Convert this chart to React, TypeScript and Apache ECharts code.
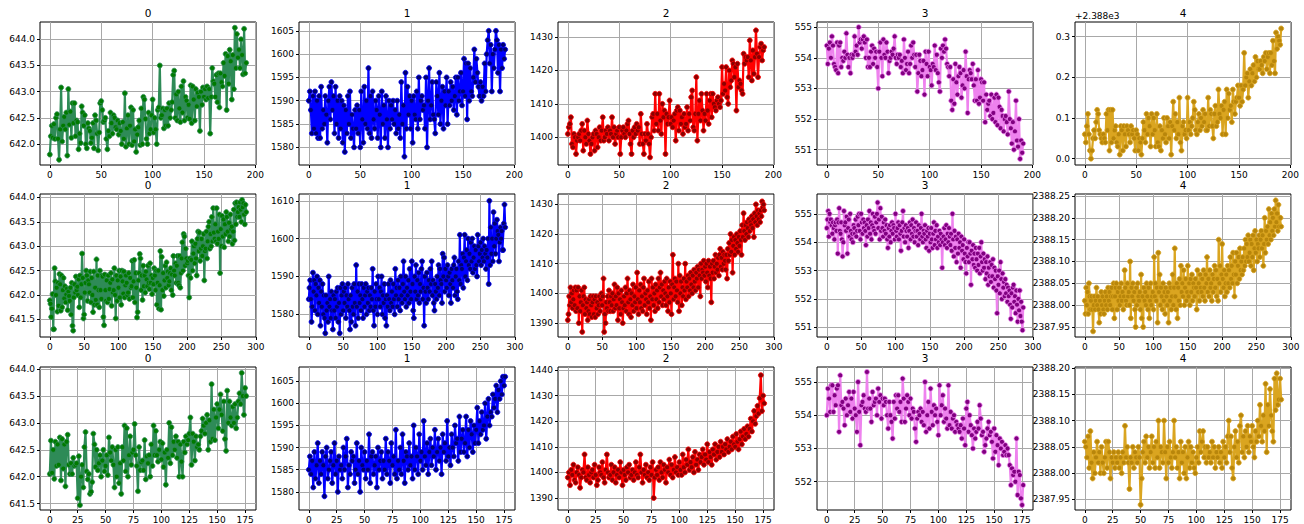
import React, { useEffect, useRef } from "react";
import * as echarts from "echarts";

// ---- DATA (integer readings; value = COL_BASE[c] + k * COL_STEP[c]) ----
const COL_BASE = [641, 1570, 1380, 550, 2387.9];
const COL_STEP = [0.01, 1, 1, 0.1, 0.01];
const COL_TITLES = ["0", "1", "2", "3", "4"];

// Row 1 (192 points)
const R1_C0 = [80,115,135,112,138,110,150,157,110,70,128,208,105,135,152,128,160,78,205,137,162,112,178,140,178,115,145,142,90,120,102,172,160,135,155,100,92,140,130,125,102,112,140,92,155,145,120,88,122,178,182,165,142,145,150,110,90,125,115,160,140,120,155,150,132,128,145,118,140,125,100,142,110,197,95,130,155,100,135,170,98,165,105,128,85,118,132,145,98,168,100,190,185,148,110,100,160,120,128,155,185,122,150,128,100,165,170,250,150,155,168,130,165,135,168,135,178,150,165,180,232,240,150,195,145,200,168,142,210,160,220,145,190,183,150,175,148,212,140,210,185,145,205,172,198,190,125,200,175,208,190,205,185,210,188,205,120,190,245,220,215,190,232,180,235,170,235,218,210,255,230,272,165,268,215,280,258,185,270,205,322,245,310,265,280,245,300,270,233,320,235,255];
const R1_C1 = [20,22,18,13,21,14,22,13,20,12,21,12,23,14,18,15,21,17,11,20,23,16,24,18,21,13,23,15,20,12,21,14,20,11,19,9,18,13,21,15,22,12,17,14,10,18,14,19,13,18,10,22,16,11,23,15,20,14,27,13,21,12,22,16,14,20,18,12,21,17,10,22,15,19,12,21,16,10,20,14,19,16,20,15,18,13,20,14,17,12,24,15,19,8,26,14,23,17,21,14,20,11,21,17,16,22,14,25,16,20,21,18,19,14,25,10,20,27,16,19,24,17,16,13,24,21,17,26,15,20,23,14,22,19,25,15,22,19,24,20,23,18,21,25,17,25,20,22,26,19,22,29,21,28,16,28,20,27,22,21,25,31,24,29,26,23,21,24,20,23,21,28,22,30,33,35,28,32,22,30,27,31,35,33,26,32,22,31,27,32,29,31];
const R1_C2 = [21,23,24,26,18,17,21,20,15,19,20,21,19,22,24,16,22,20,18,25,21,19,15,18,20,21,16,22,21,17,20,23,19,22,26,19,20,22,21,23,19,22,21,26,20,23,18,21,22,20,23,15,20,22,23,21,20,22,24,25,21,18,15,22,20,23,21,24,22,23,18,27,21,18,15,21,19,24,21,18,14,20,26,27,22,33,24,27,22,33,25,21,30,26,28,15,27,24,26,31,24,26,23,25,27,19,28,29,22,28,24,26,21,27,23,24,29,22,27,25,32,34,23,22,27,38,19,27,31,25,33,28,22,27,25,33,28,24,31,33,26,33,30,29,28,31,32,30,29,31,41,33,36,34,41,32,30,40,35,37,43,42,38,41,28,42,35,37,36,34,33,45,42,44,43,44,38,49,43,37,46,39,44,52,45,38,44,47,48,43,46,47];
const R1_C3 = [44,38,43,45,40,47,44,38,37,36,45,35,44,45,37,40,39,42,40,48,41,37,40,35,41,40,41,47,42,44,41,50,45,46,43,46,47,45,40,46,37,40,37,42,44,38,43,40,42,37,30,42,45,40,34,46,41,40,45,42,35,39,40,42,41,43,47,40,38,41,40,41,37,39,35,46,40,36,38,42,35,38,44,40,45,41,37,41,29,35,41,39,34,36,39,28,42,38,34,42,37,36,31,38,37,44,36,41,35,32,29,43,40,44,42,46,43,38,37,34,37,26,23,33,25,38,32,28,34,37,35,27,31,36,30,42,34,22,33,36,35,33,38,31,26,33,26,36,25,27,33,32,26,32,19,28,23,25,26,21,28,20,22,27,19,28,18,27,24,17,23,21,16,20,21,19,15,29,20,17,12,19,10,16,26,13,11,20,7,13,9,12];
const R1_C4 = [16,14,18,21,16,12,10,12,15,17,15,19,22,21,17,16,15,14,16,15,14,21,17,22,12,22,14,22,15,17,18,14,13,16,11,18,17,12,18,16,13,18,17,16,14,18,16,17,15,12,17,16,12,15,14,11,15,19,17,14,21,16,20,18,13,21,16,20,17,13,21,14,13,18,12,17,15,20,16,14,20,18,15,19,11,18,24,17,21,15,19,16,25,14,12,18,19,16,17,15,25,17,19,16,18,20,24,22,17,16,19,21,17,20,18,22,19,21,17,17,25,18,22,21,18,15,21,23,18,19,27,21,20,23,16,22,24,16,27,20,26,22,23,19,27,24,21,24,25,28,25,23,28,24,27,36,28,30,31,25,29,32,28,31,33,29,35,30,34,32,32,34,33,31,35,34,36,32,35,36,31,36,33,39,34,31,41,37,40,39,38,42];

// Row 2 (287 points)
const R2_C0 = [89,82,55,72,102,30,30,155,128,100,115,66,125,78,143,122,68,140,75,110,135,93,118,85,101,113,69,107,98,88,115,60,125,37,27,95,122,105,138,110,117,100,132,75,140,95,122,185,135,52,60,105,125,150,140,88,130,122,105,148,85,135,100,65,148,80,115,90,173,80,140,110,75,150,110,92,140,138,55,38,142,110,88,130,85,140,92,112,125,145,78,132,105,110,155,100,52,140,88,130,115,150,95,138,80,150,128,103,148,95,120,140,125,100,105,145,92,135,115,118,170,95,128,172,85,145,115,54,65,130,145,184,175,110,140,90,160,118,140,105,148,132,118,160,125,112,165,125,140,102,135,122,155,140,110,150,80,125,150,72,120,190,70,178,110,145,98,130,160,115,167,135,148,120,128,145,155,110,142,100,180,150,140,165,125,160,180,125,120,180,115,145,175,208,150,225,220,160,195,175,165,170,140,95,175,135,172,210,150,185,200,165,205,175,140,215,230,190,228,170,195,215,180,200,225,130,190,195,230,175,210,240,250,195,225,200,260,210,278,228,215,245,210,278,205,230,215,265,145,235,200,262,220,255,198,245,225,270,260,230,210,248,220,265,235,240,205,230,275,212,288,245,290,260,270,280,260,290,275,250,295,280,288,265,245,285,270];
const R2_C1 = [14,17,19,14,8,12,21,16,19,11,18,15,20,10,17,13,19,7,16,12,18,10,15,9,5,15,11,13,8,20,12,14,9,16,11,6,15,11,14,9,16,12,17,8,13,5,17,10,15,18,11,16,13,17,9,15,12,18,14,11,6,15,8,17,12,10,18,13,7,23,12,16,9,18,13,15,11,18,14,9,17,12,15,18,10,16,13,17,11,15,12,17,14,22,11,7,16,12,18,14,10,20,14,17,12,16,20,10,15,13,18,9,14,7,15,12,18,14,11,19,13,16,12,18,14,10,22,15,17,12,19,14,17,11,20,15,13,18,24,16,14,20,12,17,15,19,13,22,16,14,24,18,11,9,20,16,23,14,19,15,21,13,18,16,22,24,14,17,7,20,16,13,21,17,14,19,16,22,18,24,15,19,13,11,18,16,14,20,17,23,15,22,19,18,13,26,20,25,16,22,19,17,23,20,15,21,18,13,22,19,17,23,25,15,20,22,16,14,24,19,31,18,23,22,26,17,25,31,20,24,27,19,30,23,26,22,29,24,30,21,25,28,22,27,23,20,31,28,24,26,29,23,27,25,30,24,28,26,22,27,25,30,18,40,23,33,26,30,24,37,28,34,26,30,35,32,31,24,29,33,30,32,27,27,34,39,33];
const R2_C2 = [11,13,19,16,22,17,20,15,18,21,16,22,14,21,15,22,10,19,14,17,21,7,16,19,22,13,18,15,17,11,14,18,13,19,16,12,17,19,13,18,12,19,15,17,13,16,19,14,18,20,16,19,25,7,13,10,17,15,19,14,21,17,14,19,16,20,14,18,23,15,19,16,22,11,20,15,18,13,21,17,10,15,19,16,22,14,20,25,17,13,21,18,12,20,16,23,14,19,17,22,15,27,18,13,21,17,23,15,19,14,22,25,16,20,18,13,21,17,24,15,19,11,25,18,22,16,20,14,23,18,21,15,25,17,22,27,19,23,16,21,18,24,20,16,25,19,14,22,17,24,20,13,23,33,18,22,25,19,24,21,17,30,14,26,20,24,16,22,19,25,21,30,18,24,22,26,19,25,21,27,23,20,26,22,28,24,21,27,25,29,22,28,26,19,30,25,28,27,31,26,29,24,30,27,22,31,26,29,25,17,30,27,31,25,29,33,27,30,28,32,26,33,35,29,32,28,34,30,33,31,28,33,25,35,31,37,33,40,34,38,27,36,39,33,38,35,40,37,34,39,36,41,38,33,43,39,47,41,38,43,40,44,42,39,45,41,44,43,46,42,45,39,47,44,50,46,43,48,45,47,44,48,46,51,49,50,48];
const R2_C3 = [45,48,51,42,50,47,48,46,43,47,45,41,46,47,44,48,36,47,52,44,43,47,41,35,40,51,46,47,44,49,36,45,48,42,50,44,41,43,40,46,45,43,48,42,44,49,46,50,44,41,50,47,43,48,45,47,44,39,46,42,48,45,51,43,47,41,46,50,45,44,49,43,47,50,54,45,48,41,52,44,49,45,42,47,44,48,43,46,41,38,45,42,46,40,44,47,43,46,45,41,50,44,42,45,47,41,46,43,37,44,47,51,42,45,40,46,44,42,45,38,44,47,41,46,43,48,42,45,40,44,47,42,44,39,46,43,41,45,50,42,40,44,43,46,41,38,44,42,45,37,43,40,45,41,38,43,47,39,44,41,46,38,42,40,44,39,43,41,31,40,42,45,39,41,46,38,43,40,45,42,39,43,37,50,41,35,44,38,42,33,41,36,43,38,40,31,42,37,39,34,41,36,33,29,38,35,40,33,40,36,25,37,34,39,32,36,31,38,34,30,36,32,38,29,35,40,33,30,36,31,34,27,33,29,35,25,31,28,33,26,32,28,34,24,31,27,30,23,15,28,25,30,22,33,27,20,29,24,26,21,27,22,25,19,24,21,23,18,13,22,17,24,25,19,21,15,23,18,12,20,16,23,14,19,12,9,17];
const R2_C4 = [11,8,14,10,13,8,15,12,9,11,12,9,4,10,12,9,11,14,10,12,9,6,11,8,13,10,12,9,8,11,13,10,12,9,14,11,13,10,12,14,9,12,15,7,12,14,15,9,13,11,14,10,12,15,11,13,9,12,18,14,11,10,15,12,13,10,20,7,14,12,15,11,13,9,5,14,10,15,12,11,13,9,17,7,12,5,14,11,13,10,15,12,9,14,7,11,15,10,12,13,9,21,12,15,11,14,6,22,13,17,10,14,12,9,15,11,13,8,14,12,10,13,6,15,11,14,9,12,17,10,14,23,12,9,15,7,14,11,16,10,19,13,15,12,18,10,14,16,11,13,19,12,15,10,16,13,17,11,15,14,12,16,14,9,18,13,15,11,17,14,13,16,12,18,14,11,17,15,21,13,16,12,18,14,15,11,17,13,16,19,14,18,12,16,11,25,15,19,13,17,24,16,14,18,12,15,17,13,19,15,18,14,21,16,19,15,22,17,12,20,17,22,15,19,21,16,23,18,20,17,21,18,23,19,25,20,24,21,26,20,22,25,19,24,21,26,18,23,27,22,25,20,24,23,26,21,25,27,23,26,19,24,30,22,27,25,28,24,32,26,29,25,31,27,30,26,32,28,34,29,31,27,33,28,30,30,28];

// Row 3 (177 points)
const R3_C0 = [105,167,107,150,96,165,120,160,122,173,93,170,115,160,82,165,178,122,105,125,105,135,120,122,125,60,138,47,100,122,80,155,183,110,95,105,68,72,90,180,160,118,150,112,125,140,100,130,150,110,120,140,103,173,145,130,155,122,80,150,100,155,88,125,68,155,130,195,110,190,100,140,175,122,145,150,198,140,120,73,155,112,127,130,112,168,95,138,125,140,100,160,120,195,140,185,140,128,150,165,132,162,118,145,85,150,135,200,125,192,140,165,150,175,135,165,100,160,128,100,165,145,175,160,168,180,210,122,180,165,130,175,155,160,150,175,185,208,195,180,200,215,150,205,165,272,170,225,168,210,235,190,225,253,215,185,240,170,148,260,200,240,210,195,230,200,235,190,210,240,255,235,293,250,215,265,250];
const R3_C1 = [15,18,14,17,11,19,13,16,21,12,17,14,19,16,9,18,20,13,15,17,19,12,16,21,14,17,10,18,15,16,13,20,15,18,22,11,16,14,19,17,18,12,15,21,14,17,10,20,16,15,19,13,17,15,23,12,18,19,14,16,18,11,20,15,17,19,13,17,15,22,14,19,17,12,21,16,18,14,24,13,17,15,20,14,23,17,12,19,18,15,21,16,18,13,25,15,20,18,14,23,17,19,15,26,18,16,21,14,19,22,16,20,18,24,15,19,22,17,20,14,23,19,21,17,26,18,20,16,23,20,18,25,21,22,17,27,19,22,24,19,21,27,18,24,20,26,23,19,25,21,24,29,21,26,23,28,24,25,30,22,27,31,25,28,27,32,29,31,34,28,33,31,35,32,36,34,36];
const R3_C2 = [18,20,15,21,19,23,17,16,20,22,19,14,18,21,20,27,18,17,22,19,16,20,21,18,23,19,15,17,22,20,19,24,18,16,21,27,20,18,19,23,17,20,22,16,19,21,18,24,20,15,21,19,17,22,20,23,18,19,21,17,20,24,19,18,22,27,20,16,21,19,23,18,20,17,22,19,24,10,18,21,19,22,17,24,20,18,23,21,16,22,20,25,19,23,18,21,26,20,22,19,24,21,19,27,22,20,25,23,29,21,24,22,26,20,28,23,25,21,27,24,26,29,23,27,25,31,24,28,26,23,29,27,31,25,28,30,26,32,28,30,27,31,29,33,28,30,32,29,34,31,30,35,32,29,33,36,31,34,37,33,35,38,34,37,41,36,40,44,39,42,46,43,49,58,44,50,47];
const R3_C3 = [40,48,45,41,49,49,41,46,43,48,49,35,52,43,44,42,37,45,40,43,47,41,45,39,47,42,40,35,50,41,31,43,44,46,42,41,53,42,45,42,38,47,43,44,45,40,48,44,46,39,45,43,45,44,40,36,44,40,38,33,44,39,46,42,46,41,44,38,51,45,38,42,46,44,40,45,39,42,41,36,32,39,41,40,42,38,41,37,50,35,40,44,36,48,41,37,43,40,42,38,34,49,40,43,46,38,42,39,36,49,37,41,36,39,40,35,38,37,36,35,37,33,39,36,31,42,44,35,40,37,34,30,36,33,35,38,36,43,39,34,35,29,31,33,36,38,34,35,32,27,36,29,34,31,25,33,30,32,28,29,31,28,30,28,25,19,24,22,23,20,33,16,23,22,15,13,19];
const R3_C4 = [16,15,13,17,11,18,12,9,14,10,13,16,12,14,10,15,12,10,13,16,11,16,14,9,13,12,14,11,13,12,14,11,13,10,14,12,19,13,15,12,7,13,12,15,11,14,13,12,15,13,4,9,14,16,12,17,13,15,11,14,17,12,15,11,16,13,20,11,15,14,12,20,14,9,15,12,16,13,11,14,20,13,15,11,14,9,16,12,14,10,15,9,13,16,11,15,12,14,11,10,13,15,12,18,14,16,18,13,15,12,15,13,14,12,16,13,15,11,14,13,15,12,14,11,16,13,15,12,17,20,14,17,11,9,15,18,13,16,12,19,21,14,17,13,18,15,19,14,17,16,19,15,13,18,16,20,17,23,19,16,21,18,27,14,23,19,26,21,18,16,28,22,29,23,24,28,24];

// Tick values
const X_TICKS = [
  [0, 50, 100, 150, 200],
  [0, 50, 100, 150, 200, 250, 300],
  [0, 25, 50, 75, 100, 125, 150, 175],
];
const Y_TICKS = [
  [[642, 642.5, 643, 643.5, 644], [1580, 1585, 1590, 1595, 1600, 1605], [1400, 1410, 1420, 1430], [551, 552, 553, 554, 555], [2388.0, 2388.1, 2388.2, 2388.3]],
  [[641.5, 642, 642.5, 643, 643.5, 644], [1580, 1590, 1600, 1610], [1390, 1400, 1410, 1420, 1430], [551, 552, 553, 554, 555], [2387.95, 2388.0, 2388.05, 2388.1, 2388.15, 2388.2, 2388.25]],
  [[641.5, 642, 642.5, 643, 643.5, 644], [1580, 1585, 1590, 1595, 1600, 1605], [1390, 1400, 1410, 1420, 1430, 1440], [552, 553, 554, 555], [2387.95, 2388.0, 2388.05, 2388.1, 2388.15, 2388.2]],
];
const Y_LIMITS = [
  [[641.6, 644.33], [1576.2, 1606.9], [1391.7, 1434.5], [550.5, 555.17], [2387.9845, 2388.336]],
  [[641.14, 644.07], [1574.0, 1611.8], [1385.3, 1433.5], [550.66, 555.7], [2387.927, 2388.2546]],
  [[641.38, 644.04], [1575.9, 1608.2], [1385.3, 1441.2], [551.15, 555.45], [2387.93, 2388.202]],
];
const ROW_DATA = [
  [R1_C0, R1_C1, R1_C2, R1_C3, R1_C4],
  [R2_C0, R2_C1, R2_C2, R2_C3, R2_C4],
  [R3_C0, R3_C1, R3_C2, R3_C3, R3_C4],
];

// ---- styles / layout ----
const LINE_COLORS = ["#2E8B57", "#0000FF", "#FF0000", "#EE82EE", "#DAA520"];
const MARK_COLORS = ["#007a00", "#00006e", "#8B0000", "#800080", "#B8860B"];
const COL_LEFT = [40, 299, 558, 817, 1075];
const ROW_TOP = [22, 194, 367];
const GW = 216;
const GH = 143;
const FONT = '"DejaVu Sans", Verdana, sans-serif';
const GRID_COLOR = "#a8a8a8";

function isTick(v: number, ticks: number[]) {
  return ticks.some((t) => Math.abs(t - v) < 1e-6);
}

function buildOption() {
  const grid: any[] = [];
  const xAxis: any[] = [];
  const yAxis: any[] = [];
  const series: any[] = [];
  const graphic: any[] = [];
  for (let r = 0; r < 3; r++) {
    for (let c = 0; c < 5; c++) {
      const idx = r * 5 + c;
      const raw = ROW_DATA[r][c];
      const vals = raw.map((k) => +(COL_BASE[c] + k * COL_STEP[c]).toFixed(3));
      const n = vals.length;
      const xt = X_TICKS[r];
      const yt = Y_TICKS[r][c];
      const [ymin, ymax] = Y_LIMITS[r][c];
      grid.push({
        left: COL_LEFT[c],
        top: ROW_TOP[r],
        width: GW,
        height: GH,
        show: true,
        borderColor: "#000",
        borderWidth: 1,
        backgroundColor: "transparent",
        containLabel: false,
      });
      const xStep = xt[1] - xt[0];
      xAxis.push({
        type: "value",
        gridIndex: idx,
        min: -0.05 * (n - 1),
        max: 1.05 * (n - 1),
        minInterval: xStep,
        maxInterval: xStep,
        axisLine: { show: false, onZero: false },
        axisTick: { show: true, length: 3, lineStyle: { color: "#000", width: 1 }, customValues: xt },
        axisLabel: {
          show: true,
          color: "#000",
          fontSize: 9,
          fontFamily: FONT,
          margin: 5,
          customValues: xt,
          showMinLabel: true,
          showMaxLabel: true,
          formatter: (v: number) => (isTick(v, xt) ? String(Math.round(v)) : ""),
        },
        splitLine: { show: true, lineStyle: { color: GRID_COLOR, width: 1 } },
      });
      const yStep = +(yt[1] - yt[0]).toFixed(4);
      const dec = c === 0 ? 1 : c === 4 ? (r === 0 ? 1 : 2) : 0;
      yAxis.push({
        type: "value",
        gridIndex: idx,
        min: ymin,
        max: ymax,
        minInterval: yStep,
        maxInterval: yStep,
        scale: true,
        axisLine: { show: false, onZero: false },
        axisTick: { show: true, length: 3, lineStyle: { color: "#000", width: 1 }, customValues: yt },
        axisLabel: {
          show: true,
          color: "#000",
          fontSize: 9,
          fontFamily: FONT,
          margin: 5,
          customValues: yt,
          formatter: (v: number) => {
            if (!isTick(v, yt)) return "";
            if (c === 4 && r === 0) return (v - 2388).toFixed(1);
            return v.toFixed(dec);
          },
        },
        splitLine: { show: true, lineStyle: { color: GRID_COLOR, width: 1 } },
      });
      series.push({
        type: "line",
        xAxisIndex: idx,
        yAxisIndex: idx,
        data: vals.map((v, i) => [i, v]),
        symbol: "circle",
        symbolSize: 5,
        showSymbol: true,
        showAllSymbol: true,
        clip: true,
        silent: true,
        lineStyle: { color: LINE_COLORS[c], width: 2.2 },
        itemStyle: { color: MARK_COLORS[c], borderColor: LINE_COLORS[c], borderWidth: 0.8 },
        emphasis: { disabled: true },
      });
      graphic.push({
        type: "text",
        x: COL_LEFT[c] + GW / 2,
        y: ROW_TOP[r] - 9.5,
        silent: true,
        style: {
          text: COL_TITLES[c],
          fill: "#000",
          font: `10.5px ${FONT}`,
          align: "center",
          verticalAlign: "middle",
          textAlign: "center",
          textVerticalAlign: "middle",
        },
      });
    }
  }
  graphic.push({
    type: "text",
    x: COL_LEFT[4],
    y: 16,
    silent: true,
    style: {
      text: "+2.388e3",
      fill: "#000",
      font: `9px ${FONT}`,
      align: "left",
      verticalAlign: "middle",
      textAlign: "left",
      textVerticalAlign: "middle",
    },
  });
  return {
    animation: false,
    backgroundColor: "#fff",
    grid,
    xAxis,
    yAxis,
    series,
    graphic,
  };
}

export default function App() {
  const ref = useRef<HTMLDivElement>(null);
  useEffect(() => {
    document.body.style.margin = "0";
    if (!ref.current) return;
    const chart = echarts.init(ref.current, null, { renderer: "svg" });
    chart.setOption(buildOption() as any);
    return () => chart.dispose();
  }, []);
  return <div ref={ref} style={{ width: 1304, height: 524 }} />;
}
